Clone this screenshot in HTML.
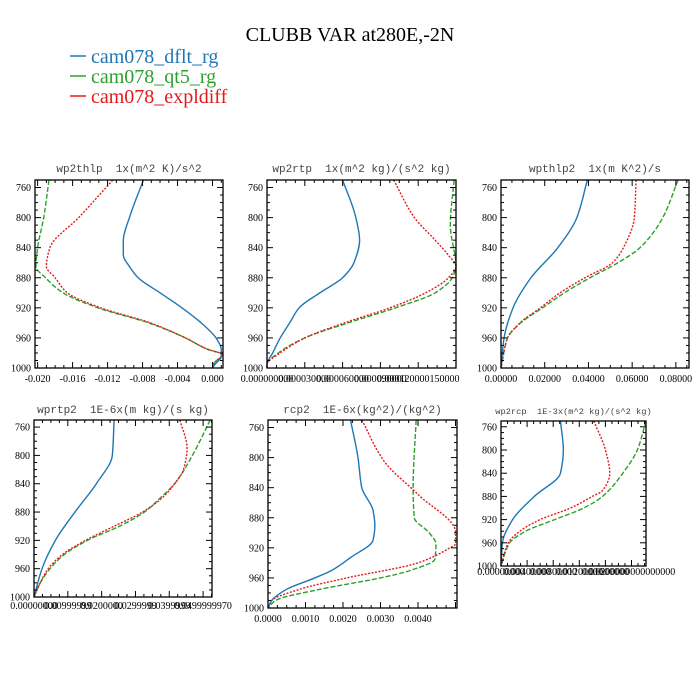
<!DOCTYPE html>
<html><head><meta charset="utf-8"><style>
html,body{margin:0;padding:0;background:#fff;}
svg{display:block;}
.tl{font-family:"Liberation Serif",serif;font-size:10px;fill:#000;}
.pt{font-family:"Liberation Mono",monospace;fill:#444;white-space:pre;}
</style></head><body>
<svg id="chart" width="700" height="700" viewBox="0 0 700 700">
<text x="350" y="41" text-anchor="middle" font-family="Liberation Serif,serif" font-size="20">CLUBB VAR at280E,-2N</text>
<g>
<g><line x1="70" y1="56" x2="86" y2="56" stroke="#1f77b4" stroke-width="1.5"/><text x="91" y="63" font-family="Liberation Serif,serif" font-size="20" fill="#1f77b4">cam078_dflt_rg</text></g>
<g><line x1="70" y1="76" x2="86" y2="76" stroke="#2ca02c" stroke-width="1.5"/><text x="91" y="83" font-family="Liberation Serif,serif" font-size="20" fill="#2ca02c">cam078_qt5_rg</text></g>
<g><line x1="70" y1="96" x2="86" y2="96" stroke="#e31a1c" stroke-width="1.5"/><text x="91" y="103" font-family="Liberation Serif,serif" font-size="20" fill="#e31a1c">cam078_expldiff</text></g>
</g>
</svg>
<script>
// ---- data (pressure levels in hPa, values per panel) ----
const yTicks=[760,800,840,880,920,960,1000];
// panel 1: wp2thlp
const p1Lev=[750,800,830,850,865,880,900,920,940,960,975,985,995,1000];
const p1Blue=[-0.0079,-0.0095,-0.0102,-0.0102,-0.0095,-0.0085,-0.006,-0.0035,-0.0013,0.0004,0.0010,0.0010,0.0003,0];
const p1RedLev=[750,800,840,865,880,900,920,940,960,975,982,995,1000];
const p1Red=[-0.0114,-0.0153,-0.0186,-0.0190,-0.0180,-0.0166,-0.0128,-0.0071,-0.0031,-0.0006,0.0011,0.0001,0];
const p1GreenLev=[750,800,840,865,880,900,920,940,960,975,982,995,1000];
const p1Green=[-0.0187,-0.0193,-0.0200,-0.0202,-0.0191,-0.0171,-0.0131,-0.0073,-0.0031,-0.0006,0.0011,0.0001,0];
const p1XTicks=[-0.020,-0.016,-0.012,-0.008,-0.004,0.000];
const p1XLabels=["-0.020","-0.016","-0.012","-0.008","-0.004","0.000"];
// panel 2: wp2rtp (fraction of axis)
const p2Lev=[750,800,830,860,880,900,920,940,960,980,995,1000];
const p2Blue=[0.40,0.47,0.49,0.46,0.40,0.28,0.17,0.12,0.07,0.03,0.0,0];
const p2RedLev=[750,800,830,850,865,880,900,920,940,960,980,995,1000];
const p2Red=[0.67,0.78,0.89,0.96,1.0,0.96,0.84,0.65,0.41,0.20,0.07,0.0,0];
const p2GreenLev=[750,810,865,880,900,920,940,960,980,995,1000];
const p2Green=[0.99,0.97,1.0,0.98,0.89,0.68,0.43,0.20,0.06,0.0,0];
const p2XTicks=[0,0.2,0.4,0.6,0.8];
const p2XLabels=["0.000000000","0.000030000","0.000060000","0.000090000","0.000120000150000"];
// panel 3: wpthlp2
const p3Lev=[750,800,840,880,920,960,1000];
const p3Blue=[0.0395,0.0347,0.026,0.0137,0.0055,0.0014,0];
const p3RedLev=[750,800,840,860,880,900,920,940,960,1000];
const p3Red=[0.0618,0.061,0.056,0.051,0.0384,0.027,0.018,0.0087,0.003,0];
const p3Green=[0.081,0.074,0.0636,0.0535,0.0407,0.029,0.019,0.009,0.003,0];
const p3XTicks=[0,0.02,0.04,0.06,0.08];
const p3XLabels=["0.00000","0.02000","0.04000","0.06000","0.08000"];
// panel 4: wprtp2 (fraction)
const p4Lev=[750,800,840,880,920,960,1000];
const p4Blue=[0.45,0.44,0.35,0.23,0.12,0.045,0];
const p4RedLev=[750,790,820,840,860,880,900,920,940,960,980,1000];
const p4Red=[0.82,0.86,0.84,0.79,0.72,0.61,0.45,0.29,0.16,0.08,0.035,0];
const p4GreenLev=[750,800,840,860,880,900,920,940,960,980,1000];
const p4Green=[0.99,0.89,0.79,0.71,0.62,0.48,0.30,0.17,0.09,0.035,0];
const p4XTicks=[0,0.19,0.38,0.57,0.76,0.95];
const p4XLabels=["0.00000000","0.00999999","0.0200000","0.0299999","0.0399999","0.0499999970"];
// panel 5: rcp2
const p5Lev=[750,800,840,870,890,910,933,950,961,975,990,1000];
const p5Blue=[0.0022,0.0024,0.0025,0.0028,0.00285,0.0028,0.0022,0.0017,0.0012,0.0005,0.0001,0];
const p5RedLev=[750,805,849,899,915,920,940,960,975,990,1000];
const p5Red=[0.0025,0.0031,0.0040,0.0050,0.0050,0.00485,0.0040,0.0021,0.00085,0.0001,0];
const p5GreenLev=[750,840,880,900,915,935,950,960,975,990,1000];
const p5Green=[0.00395,0.00387,0.0039,0.0043,0.00448,0.00445,0.0038,0.003,0.0014,0.0002,0];
const p5XTicks=[0,0.001,0.002,0.003,0.004];
const p5XLabels=["0.0000","0.0010","0.0020","0.0030","0.0040"];
// panel 6: wp2rcp (fraction)
const p6Lev=[750,800,840,880,920,960,1000];
const p6Blue=[0.41,0.43,0.41,0.23,0.08,0.01,0];
const p6RedLev=[750,800,840,870,880,900,920,940,960,1000];
const p6Red=[0.64,0.72,0.75,0.70,0.63,0.48,0.27,0.13,0.05,0];
const p6GreenLev=[750,800,840,880,900,920,940,960,1000];
const p6Green=[1.0,0.94,0.84,0.70,0.57,0.37,0.17,0.06,0];
const p6XTicks=[0,0.18,0.36,0.54,0.72,0.90];
const p6XLabels=["0.00000000","0.00400000","0.00800000","0.01200000","0.01600000","0.0200000000000000"];

const NS="http://www.w3.org/2000/svg";
const svg=document.getElementById('chart');
function mk(tag,attrs,parent){const e=document.createElementNS(NS,tag);for(const k in attrs)e.setAttribute(k,attrs[k]);(parent||svg).appendChild(e);return e;}

// monotone cubic (Fritsch-Carlson) of x as function of y
function smoothPath(pts){
  const n=pts.length,h=[],d=[],m=[];
  for(let i=0;i<n-1;i++){h[i]=pts[i+1][1]-pts[i][1];d[i]=(pts[i+1][0]-pts[i][0])/h[i];}
  m[0]=d[0];m[n-1]=d[n-2];
  for(let i=1;i<n-1;i++){
    if(d[i-1]*d[i]<=0)m[i]=0;
    else{const w1=2*h[i]+h[i-1],w2=h[i]+2*h[i-1];m[i]=(w1+w2)/(w1/d[i-1]+w2/d[i]);}
  }
  let s="M"+pts[0][0].toFixed(2)+","+pts[0][1].toFixed(2);
  for(let i=0;i<n-1;i++){
    const hh=h[i]/3;
    s+=" C"+(pts[i][0]+m[i]*hh).toFixed(2)+","+(pts[i][1]+hh).toFixed(2)+" "+(pts[i+1][0]-m[i+1]*hh).toFixed(2)+","+(pts[i+1][1]-hh).toFixed(2)+" "+pts[i+1][0].toFixed(2)+","+pts[i+1][1].toFixed(2);
  }
  return s;
}

function panel(c){
  const g=mk('g',{});
  
  
  const xs=v=>c.L+(v-c.x0)/(c.x1-c.x0)*(c.R-c.L);
  const ys=p=>c.T+(p-750)/250*(c.B-c.T);
  const t=mk('text',{x:(c.L+c.R)/2,y:c.ty,'text-anchor':'middle','class':'pt','font-size':c.tfs},g);
  t.textContent=c.title;
  
  
  const clip='clip-'+c.name;
  const cp=mk('clipPath',{id:clip},g);mk('rect',{x:c.L-2,y:c.T,width:c.R-c.L+4,height:c.B-c.T},cp);
  const series=[[c.gLev,c.green,'#2ca02c','5,2','series-qt5'],[c.rLev,c.red,'#e31a1c','2,1.5','series-expldiff'],[c.bLev,c.blue,'#1f77b4','','series-dflt']];
  series.forEach(s=>{
    const pts=s[0].map((p,i)=>[xs(s[1][i]),ys(p)]);
    const path=mk('path',{d:smoothPath(pts),fill:'none',stroke:s[2],'stroke-width':1.4,'stroke-dasharray':s[3],'clip-path':'url(#'+clip+')'},g);
    
    
  });
  const fr=mk('rect',{x:c.L,y:c.T,width:c.R-c.L,height:c.B-c.T,fill:'none',stroke:'#000','stroke-width':1.3},g);
  
  
  for(let p=760;p<=1000;p+=10){
    const y=ys(p),major=(p-760)%40===0,len=major?6:3;
    mk('line',{x1:c.L,y1:y,x2:c.L+len,y2:y,stroke:'#000','stroke-width':1},g);
    mk('line',{x1:c.R,y1:y,x2:c.R-len,y2:y,stroke:'#000','stroke-width':1},g);
  }
  yTicks.forEach(p=>{
    const tx=mk('text',{x:c.L-4,y:ys(p)+3.5,'text-anchor':'end','class':'tl','font-size':c.fs},g);
    tx.textContent=p;
    
    
  });
  const step=c.xt[1]-c.xt[0];
  for(let v=c.xt[0]-step;v<=c.x1+1e-12;v+=step/4){
    if(v<c.x0-1e-12)continue;
    const x=xs(v),k=Math.round((v-c.xt[0])/step*4),major=k%4===0,len=major?6:3;
    mk('line',{x1:x,y1:c.B,x2:x,y2:c.B-len,stroke:'#000','stroke-width':1},g);
    mk('line',{x1:x,y1:c.T,x2:x,y2:c.T+len,stroke:'#000','stroke-width':1},g);
  }
  c.xt.forEach((v,i)=>{
    const tx=mk('text',{x:xs(v),y:c.B+c.lo,'text-anchor':'middle','class':'tl','font-size':c.fs},g);
    tx.textContent=c.xl[i];
    
    
  });
}

panel({name:'panel-wp2thlp',title:'wp2thlp  1x(m^2 K)/s^2',L:35,R:223,T:180,B:368,x0:-0.0203,x1:0.0012,ty:172,tfs:11,fs:10,lo:14,
  bLev:p1Lev,blue:p1Blue,rLev:p1RedLev,red:p1Red,gLev:p1GreenLev,green:p1Green,xt:p1XTicks,xl:p1XLabels});
panel({name:'panel-wp2rtp',title:'wp2rtp  1x(m^2 kg)/(s^2 kg)',L:267,R:456,T:180,B:368,x0:0,x1:1.0,ty:172,tfs:11,fs:10,lo:14,
  bLev:p2Lev,blue:p2Blue,rLev:p2RedLev,red:p2Red,gLev:p2GreenLev,green:p2Green,xt:p2XTicks,xl:p2XLabels});
panel({name:'panel-wpthlp2',title:'wpthlp2  1x(m K^2)/s',L:501,R:689,T:180,B:368,x0:0,x1:0.086,ty:172,tfs:11,fs:10,lo:14,
  bLev:p3Lev,blue:p3Blue,rLev:p3RedLev,red:p3Red,gLev:p3RedLev,green:p3Green,xt:p3XTicks,xl:p3XLabels});
panel({name:'panel-wprtp2',title:'wprtp2  1E-6x(m kg)/(s kg)',L:34,R:212,T:420,B:597,x0:0,x1:1.0,ty:413,tfs:11,fs:9.5,lo:12,
  bLev:p4Lev,blue:p4Blue,rLev:p4RedLev,red:p4Red,gLev:p4GreenLev,green:p4Green,xt:p4XTicks,xl:p4XLabels});
panel({name:'panel-rcp2',title:'rcp2  1E-6x(kg^2)/(kg^2)',L:268,R:457,T:420,B:608,x0:0,x1:0.00504,ty:413,tfs:11,fs:10,lo:14,
  bLev:p5Lev,blue:p5Blue,rLev:p5RedLev,red:p5Red,gLev:p5GreenLev,green:p5Green,xt:p5XTicks,xl:p5XLabels});
panel({name:'panel-wp2rcp',title:'wp2rcp  1E-3x(m^2 kg)/(s^2 kg)',L:501,R:646,T:421,B:566,x0:0,x1:1.0,ty:414,tfs:8.7,fs:7.5,lo:9,
  bLev:p6Lev,blue:p6Blue,rLev:p6RedLev,red:p6Red,gLev:p6GreenLev,green:p6Green,xt:p6XTicks,xl:p6XLabels});
</script>
</body></html>
